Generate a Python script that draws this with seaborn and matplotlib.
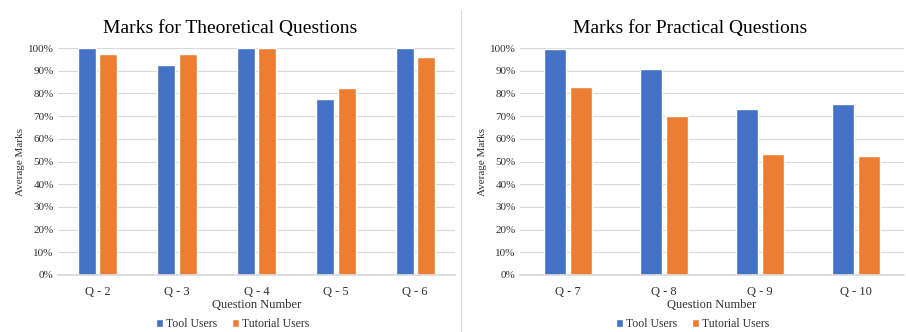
import matplotlib
matplotlib.use("Agg")
import matplotlib.pyplot as plt
import seaborn as sns
import pandas as pd
from matplotlib.lines import Line2D
from matplotlib.patches import Patch
from matplotlib.ticker import PercentFormatter

theory_questions = ["Q - 2", "Q - 3", "Q - 4", "Q - 5", "Q - 6"]
theory_tool = [100, 92.5, 100, 77.5, 100]
theory_tutorial = [97.5, 97.5, 100, 82.5, 96]

practical_questions = ["Q - 7", "Q - 8", "Q - 9", "Q - 10"]
practical_tool = [99.5, 91, 73, 75.5]
practical_tutorial = [83, 70, 53.5, 52.5]

groups = ["Tool Users", "Tutorial Users"]
colors = ["#4472C4", "#ED7D31"]

sns.set_theme(style="white")
plt.rcParams["font.family"] = ["Liberation Serif", "DejaVu Serif"]

fig = plt.figure(figsize=(9.06, 3.32), dpi=100)
ax1 = fig.add_axes([58/906, 0.172, (455-58)/906, 0.683])
ax2 = fig.add_axes([520/906, 0.172, (904-520)/906, 0.683])

def make_df(qs, tool, tut):
    return pd.DataFrame({
        "Question": qs * 2,
        "Marks": list(tool) + list(tut),
        "Group": [groups[0]] * len(qs) + [groups[1]] * len(qs),
    })

panels = [
    (ax1, make_df(theory_questions, theory_tool, theory_tutorial), "Marks for Theoretical Questions", 230),
    (ax2, make_df(practical_questions, practical_tool, practical_tutorial), "Marks for Practical Questions", 690),
]

for ax, df, title, cx in panels:
    sns.barplot(data=df, x="Question", y="Marks", hue="Group", palette=colors,
                width=0.54, gap=0.16, ax=ax, legend=False, saturation=1)
    ax.set_ylim(0, 100)
    ax.set_yticks(range(0, 101, 10))
    ax.yaxis.set_major_formatter(PercentFormatter(decimals=0))
    ax.grid(axis="y", color="#D9D9D9", linewidth=0.8)
    ax.set_axisbelow(True)
    for s in ["top", "right", "left"]:
        ax.spines[s].set_visible(False)
    ax.spines["bottom"].set_color("#D9D9D9")
    ax.tick_params(axis="both", labelsize=8, length=0, colors="#303030", pad=3)
    ax.tick_params(axis="x", labelsize=9, pad=8)
    ax.set_xlabel("Question Number", fontsize=9, color="#303030", labelpad=1)
    ax.set_ylabel("Average Marks", fontsize=8, color="#303030", labelpad=2)
    fig.text(cx/906, 1 - 28/332, title, ha="center", va="center", fontsize=14, color="black")
    handles = [Patch(facecolor=c, label=g) for c, g in zip(colors, groups)]
    fig.legend(handles=handles, loc="center", bbox_to_anchor=(cx/906 + 0.003, 1 - 324/332),
               ncol=2, frameon=False, fontsize=8.5, handlelength=0.6, handleheight=0.6,
               handletextpad=0.3, columnspacing=1.2, labelcolor="#303030")

fig.add_artist(Line2D([461/906, 461/906], [0, 1 - 10/332], transform=fig.transFigure,
                      color="#D9D9D9", linewidth=0.8))

fig.savefig("out.png", dpi=100)
